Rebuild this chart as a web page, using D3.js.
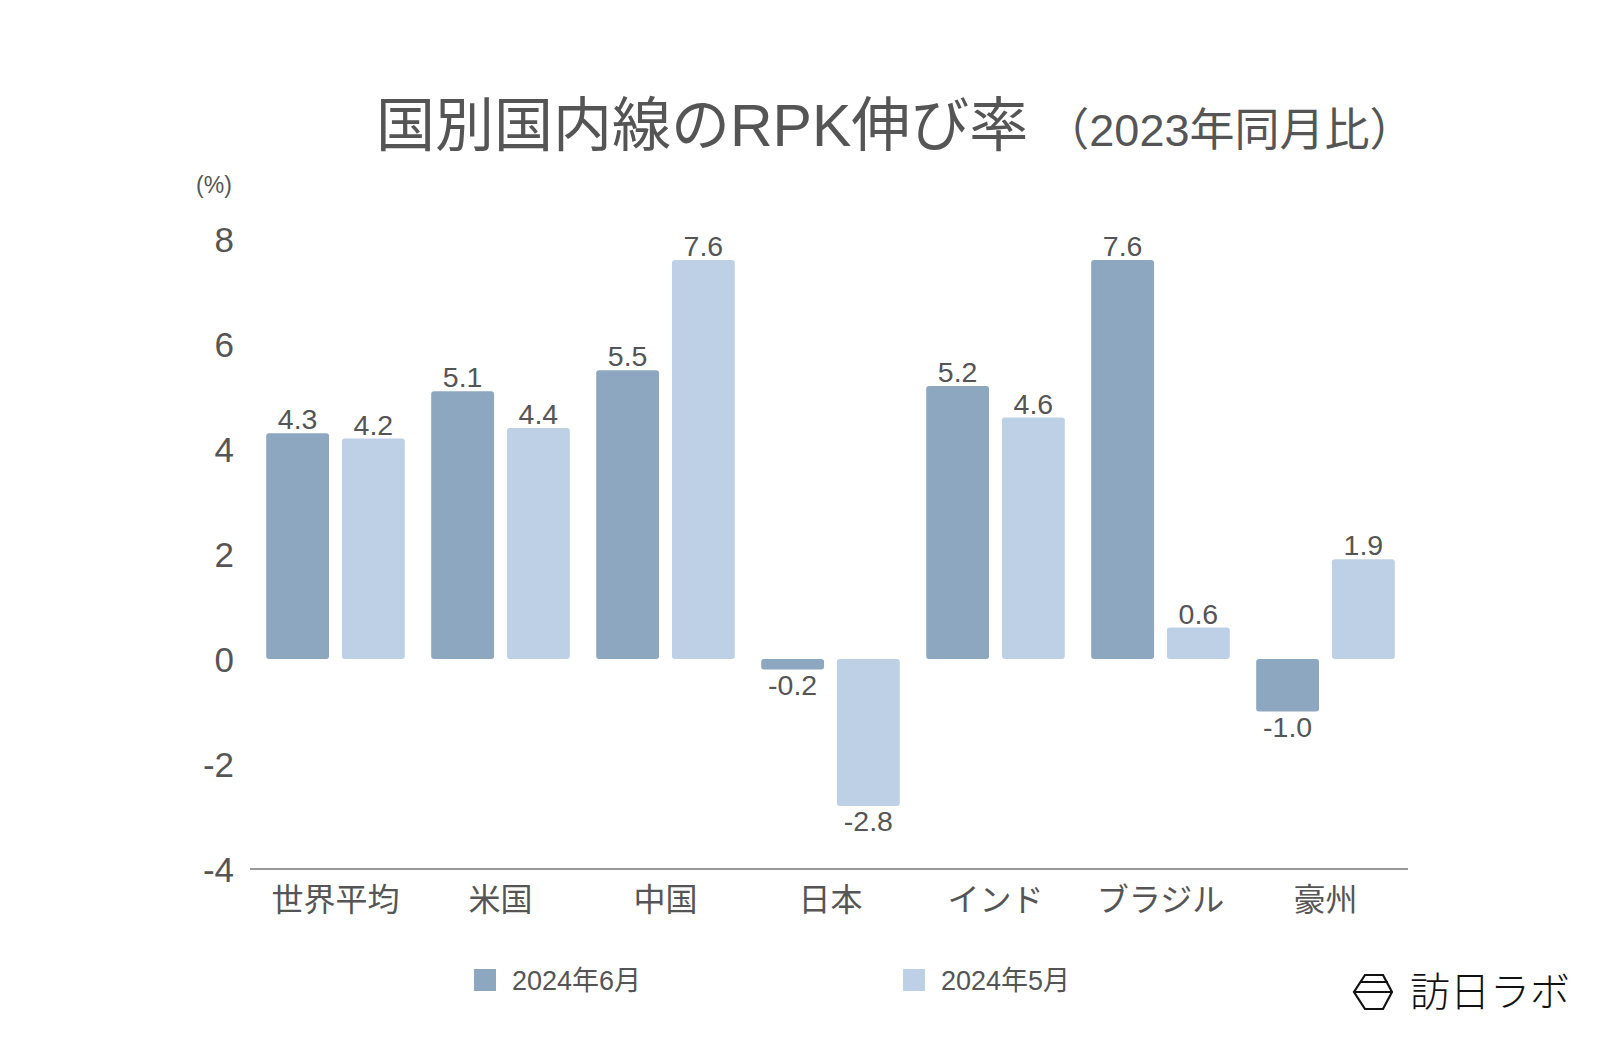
<!DOCTYPE html>
<html>
<head>
<meta charset="utf-8">
<script src="https://cdn.jsdelivr.net/npm/d3@7"></script>
<style>
  html, body { margin: 0; padding: 0; background: #fff; }
  svg { display: block; }
  text { font-family: "Liberation Sans", "Noto Sans CJK JP", sans-serif; }
</style>
</head>
<body>
<svg id="chart" width="1600" height="1048"></svg>
<script>
const categories = ["世界平均", "米国", "中国", "日本", "インド", "ブラジル", "豪州"];
const seriesNames = ["2024年6月", "2024年5月"];
const june2024 = [4.3, 5.1, 5.5, -0.2, 5.2, 7.6, -1.0];
const may2024 = [4.2, 4.4, 7.6, -2.8, 4.6, 0.6, 1.9];
const yTicks = [-4, -2, 0, 2, 4, 6, 8];
const colors = ["#8ca7bf", "#bdd0e6"];

const svg = d3.select("#chart");
const textColor = "#555555";

const x0 = d3.scaleBand().domain(categories).range([253, 1408]).paddingInner(0.16).paddingOuter(0.08);
const x1 = d3.scaleBand().domain(seriesNames).range([0, x0.bandwidth()]).paddingInner(0.17);
const y = d3.scaleLinear().domain([-4, 8]).range([869, 239]);

const seriesValues = [june2024, may2024];
const rows = categories.map((c, i) => ({ cat: c, vals: seriesNames.map((s, j) => ({ s, j, v: seriesValues[j][i] })) }));

// Title
const title = svg.append("text").attr("x", 376).attr("y", 146).attr("fill", textColor);
title.append("tspan").attr("font-size", 59).text("国別国内線のRPK伸び率");
title.append("tspan").attr("font-size", 45).attr("dx", 16).text("（2023年同月比）");

// unit label
svg.append("text").attr("x", 214).attr("y", 193).attr("text-anchor", "middle")
  .attr("font-size", 23).attr("fill", textColor).text("(%)");

// y axis (labels only)
const yAxis = d3.axisLeft(y).tickValues(yTicks).tickSize(0).tickPadding(0).tickFormat(d => String(d));
const yg = svg.append("g").attr("transform", "translate(234,0)").call(yAxis);
yg.select(".domain").remove();
yg.selectAll("text").attr("font-size", 35).attr("fill", textColor)
  .attr("font-family", "'Liberation Sans', sans-serif").attr("dy", "0.36em");

// bottom axis
const xAxis = d3.axisBottom(x0).tickSize(0).tickPadding(19);
const xg = svg.append("g").attr("transform", `translate(0,${y(-4)})`).call(xAxis);
xg.select(".domain").attr("stroke", "#999").attr("stroke-width", 2).attr("d", "M250,0H1408");
xg.selectAll("text").attr("font-size", 32).attr("fill", textColor)
  .attr("font-family", "'Noto Sans CJK JP', sans-serif");

// bars
const groups = svg.append("g").selectAll("g").data(rows).join("g")
  .attr("transform", d => `translate(${x0(d.cat)},0)`);

groups.selectAll("rect").data(d => d.vals).join("rect")
  .attr("x", d => x1(d.s))
  .attr("width", x1.bandwidth())
  .attr("y", d => y(Math.max(0, d.v)))
  .attr("height", d => Math.abs(y(d.v) - y(0)))
  .attr("rx", 3)
  .attr("fill", d => colors[d.j]);

groups.selectAll("text.val").data(d => d.vals).join("text")
  .attr("class", "val")
  .attr("x", d => x1(d.s) + x1.bandwidth() / 2)
  .attr("y", d => d.v >= 0 ? y(d.v) - 4 : y(d.v) + 25)
  .attr("text-anchor", "middle")
  .attr("font-size", 28.5)
  .attr("font-family", "'Liberation Sans', sans-serif")
  .attr("fill", textColor)
  .text(d => d.v.toFixed(1));

// legend
const legendX = [474, 903];
const lg = svg.append("g").selectAll("g").data(seriesNames).join("g")
  .attr("transform", (d, i) => `translate(${legendX[i]},969)`);
lg.append("rect").attr("width", 22).attr("height", 22).attr("fill", (d, i) => colors[i]);
lg.append("text").attr("x", 38).attr("y", 21).attr("font-size", 27).attr("fill", textColor).text(d => d);

// logo
const logo = svg.append("g").attr("fill", "none").attr("stroke", "#111").attr("stroke-width", 2.2);
logo.append("path").attr("d", "M1365,975 L1383,975 L1392,992 L1383,1009 L1365,1009 L1354,992 Z");
logo.append("path").attr("d", "M1360,982 L1388,982 M1354,992 L1392,992");
svg.append("text").attr("x", 1410).attr("y", 1006).attr("font-size", 40).attr("font-weight", 300)
  .attr("font-family", "'Noto Sans CJK JP', sans-serif")
  .attr("fill", "#111").attr("letter-spacing", 0).text("訪日ラボ");
</script>
</body>
</html>
